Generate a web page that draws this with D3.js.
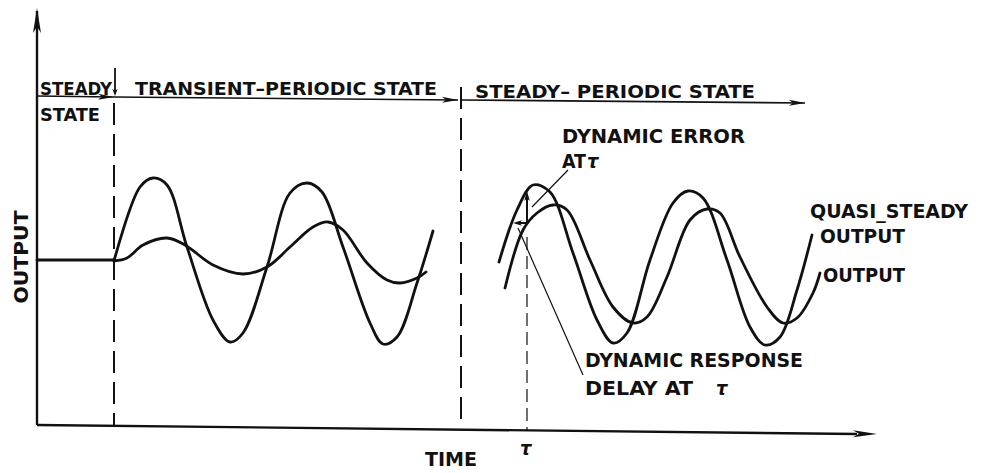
<!DOCTYPE html>
<html>
<head>
<meta charset="utf-8">
<script src="https://cdn.jsdelivr.net/npm/d3@7"></script>
<style>
  html, body { margin: 0; padding: 0; background: #fff; }
  svg { display: block; }
  text {
    font-family: "Liberation Sans Narrow", "DejaVu Sans Condensed", "Arial Narrow", sans-serif;
    font-weight: bold;
    fill: #111;
  }
</style>
</head>
<body>
<svg id="chart" width="988" height="473"></svg>
<script>
// ---- data (time, output) in chart units ----
const steadyLevel = [[0, 16.7], [7.7, 16.7]];

const transientInput = [
  [7.7, 16.6], [10.3, 24.0], [11.6, 24.9], [13.0, 24.2], [15.0, 18.0], [17.6, 10.7],
  [19.3, 8.5], [20.6, 9.4], [23.0, 16.0], [25.3, 23.4], [27.0, 24.4], [28.5, 23.5],
  [30.6, 18.0], [33.3, 10.4], [34.6, 8.3], [36.0, 9.0], [38.0, 14.4], [39.6, 19.6]
];

const transientOutput = [
  [7.7, 16.6], [9.0, 16.9], [10.6, 18.2], [13.0, 18.9], [14.8, 18.2], [17.6, 16.2],
  [20.6, 15.3], [23.0, 16.0], [25.3, 18.0], [27.6, 20.0], [29.1, 20.5], [30.6, 19.7],
  [33.0, 16.4], [35.0, 14.7], [36.3, 14.4], [38.0, 14.9], [38.9, 15.5]
];

const quasiSteadyOutput = [
  [46.2, 16.5], [48.0, 21.7], [49.6, 24.2], [51.3, 23.5], [53.6, 17.4], [56.0, 10.7],
  [57.6, 8.4], [59.0, 9.4], [61.3, 16.7], [63.6, 22.4], [65.1, 23.6], [66.6, 22.9],
  [69.0, 16.7], [71.3, 10.0], [72.8, 8.2], [74.3, 9.0], [76.0, 13.7], [77.5, 19.2]
];

const periodicOutput = [
  [46.8, 13.9], [48.6, 19.7], [50.0, 21.4], [51.6, 22.2], [53.0, 21.7], [55.3, 16.7],
  [57.6, 12.0], [59.6, 10.4], [61.0, 11.0], [63.0, 15.0], [65.3, 20.7], [67.0, 21.8],
  [68.3, 21.4], [70.3, 17.0], [73.0, 12.0], [74.6, 10.4], [76.0, 10.9], [77.6, 13.4],
  [78.3, 15.4]
];

const phaseBoundaries = [7.7, 42.4];
const tau = 49.0;
const errorAtTau = [20.4, 23.6];      // output value and quasi-steady value at tau
const delayAtTau = [49.0, 47.6];      // tau and the time quasi-steady output had that value

const axisLabels = { x: "TIME", y: "OUTPUT", tick: "τ" };
const stateLabels = ["STEADY", "STATE", "TRANSIENT\u2013PERIODIC STATE", "STEADY\u2013 PERIODIC STATE"];
const curveLabels = ["QUASI_STEADY", "OUTPUT", "OUTPUT"];
const noteLabels = ["DYNAMIC ERROR", "AT", "DYNAMIC RESPONSE", "DELAY AT"];

// ---- scales ----
const x = d3.scaleLinear().domain([0, 84]).range([37, 877]);
const y = d3.scaleLinear().domain([0, 42]).range([427, 7]);

const svg = d3.select("#chart");
svg.append("rect").attr("width", 988).attr("height", 473).attr("fill", "#fff");

const ink = "#111";

function arrowHead(tip, from, len, half) {
  const dx = tip[0] - from[0], dy = tip[1] - from[1];
  const d = Math.hypot(dx, dy);
  const ux = dx / d, uy = dy / d;
  const bx = tip[0] - ux * len, by = tip[1] - uy * len;
  const px = -uy * half, py = ux * half;
  svg.append("path")
    .attr("d", `M${tip[0]},${tip[1]}L${bx + px},${by + py}L${bx + ux * len * 0.25},${by + uy * len * 0.25}L${bx - px},${by - py}Z`)
    .attr("fill", ink);
}

function seg(p0, p1, w, dash) {
  const l = svg.append("line")
    .attr("x1", p0[0]).attr("y1", p0[1]).attr("x2", p1[0]).attr("y2", p1[1])
    .attr("stroke", ink).attr("stroke-width", w).attr("stroke-linecap", "butt");
  if (dash) l.attr("stroke-dasharray", dash);
  return l;
}

// ---- axes ----
const origin = [x(0), y(0.2)];
seg(origin, [x(0), y(41.6)], 2.4);
arrowHead([x(0), y(41.9)], [x(0), y(30)], 25, 4);
const xEnd = [x(84), y(-0.7)];
seg(origin, [x(82), y(-0.7)], 2.4);
arrowHead(xEnd, origin, 24, 3.5);

// ---- state arrows along the top ----
const stateRow = [[0, 33.1], [7.7, 33.0], [42.1, 32.7], [42.5, 32.7], [76.8, 32.4]];
seg([x(stateRow[0][0]), y(stateRow[0][1])], [x(stateRow[1][0]), y(stateRow[1][1])], 1.6);
arrowHead([x(stateRow[1][0]), y(stateRow[1][1])], [x(0), y(33.1)], 16, 3);
seg([x(stateRow[1][0]), y(stateRow[1][1])], [x(stateRow[2][0]), y(stateRow[2][1])], 1.6);
arrowHead([x(stateRow[2][0]), y(stateRow[2][1])], [x(7.7), y(33.0)], 16, 3);
seg([x(stateRow[3][0]), y(stateRow[3][1])], [x(stateRow[4][0]), y(stateRow[4][1])], 1.6);
arrowHead([x(stateRow[4][0]), y(stateRow[4][1])], [x(42.5), y(32.7)], 16, 3);

// small marker arrow into the first boundary
seg([x(7.8), y(35.9)], [x(7.8), y(33.6)], 1.8);
arrowHead([x(7.8), y(33.1)], [x(7.8), y(36)], 7, 2.6);

// ---- phase boundaries ----
seg([x(phaseBoundaries[0]), y(32.4)], [x(phaseBoundaries[0]), y(0.2)], 2, "22,9");
seg([x(phaseBoundaries[1]), y(34.0)], [x(phaseBoundaries[1]), y(-0.1)], 2, "22,9");

// ---- curves ----
const line = d3.line().x(d => x(d[0])).y(d => y(d[1])).curve(d3.curveCatmullRom.alpha(0.5));
[steadyLevel, transientInput, transientOutput, quasiSteadyOutput, periodicOutput].forEach(s => {
  svg.append("path").attr("d", line(s))
    .attr("fill", "none").attr("stroke", ink).attr("stroke-width", 2.8)
    .attr("stroke-linejoin", "round").attr("stroke-linecap", "round");
});

// ---- tau marker and arrows ----
seg([x(tau), y(19.0)], [x(tau), y(-0.3)], 1.2, "13,6");
seg([x(tau), y(errorAtTau[0])], [x(tau), y(errorAtTau[1] - 0.6)], 2);
arrowHead([x(tau), y(errorAtTau[1])], [x(tau), y(errorAtTau[0])], 10, 2.8);
seg([x(delayAtTau[0]), y(errorAtTau[0])], [x(delayAtTau[1] + 0.5), y(errorAtTau[0])], 2);
arrowHead([x(delayAtTau[1]), y(errorAtTau[0])], [x(delayAtTau[0]), y(errorAtTau[0])], 9, 2.8);

// leader lines
seg([x(53.1), y(25.7)], [x(49.5), y(22.0)], 1.2);
seg([x(54.6), y(5.2)], [x(48.1), y(19.9)], 1.2);

// ---- text ----
function label(str, px, py, size, width) {
  const t = svg.append("text").attr("x", px).attr("y", py).attr("font-size", size).text(str);
  if (width) t.attr("textLength", width).attr("lengthAdjust", "spacingAndGlyphs");
  return t;
}
function tauLabel(px, py, size) {
  return svg.append("text").attr("x", px).attr("y", py).attr("font-size", size)
    .attr("font-style", "italic").attr("font-family", "DejaVu Serif, serif").text(axisLabels.tick);
}

label(stateLabels[0], 40, 95, 18, 72);
label(stateLabels[1], 40, 121, 18, 60);
label(stateLabels[2], 135, 95, 18, 302);
label(stateLabels[3], 475, 98, 18, 280);

label(noteLabels[0], 562, 143, 20, 183);
label(noteLabels[1], 562, 168, 20, 24);
tauLabel(587, 168, 20);
label(noteLabels[2], 585, 367, 20, 218);
label(noteLabels[3], 585, 395, 20, 108);
tauLabel(716, 395, 20);

label(curveLabels[0], 810, 218, 20, 158);
label(curveLabels[1], 820, 243, 20, 85);
label(curveLabels[2], 823, 282, 20, 82);

label(axisLabels.x, 425, 466, 20, 52);
tauLabel(520, 455, 20);

svg.append("text")
  .attr("transform", "translate(28,257) rotate(-90)")
  .attr("text-anchor", "middle").attr("font-size", 20)
  .attr("textLength", 93).attr("lengthAdjust", "spacingAndGlyphs")
  .text(axisLabels.y);
</script>
</body>
</html>
